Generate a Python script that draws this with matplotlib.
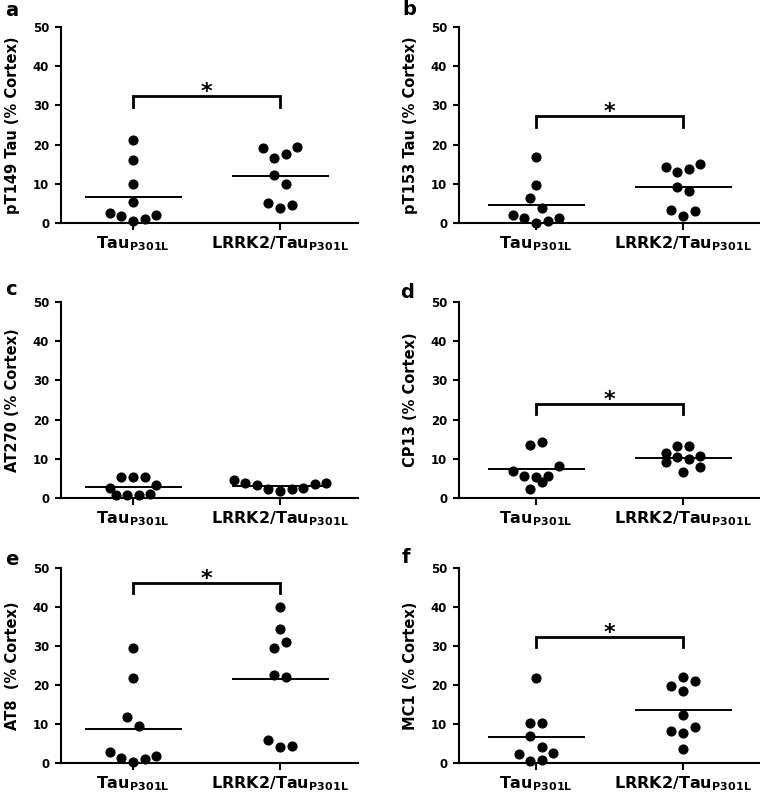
import matplotlib
matplotlib.use('Agg')
import matplotlib.pyplot as plt
import numpy as np

plt.rcParams['font.family'] = ['DejaVu Sans']
plt.rcParams['font.weight'] = 'bold'
plt.rcParams['mathtext.fontset'] = 'dejavusans'

group_labels = [r'$\mathbf{Tau_{P301L}}$', r'$\mathbf{LRRK2/Tau_{P301L}}$']
panel_letters = ['a', 'b', 'c', 'd', 'e', 'f']
ylabels = ['pT149 Tau (% Cortex)', 'pT153 Tau (% Cortex)', 'AT270 (% Cortex)',
           'CP13 (% Cortex)', 'AT8  (% Cortex)', 'MC1 (% Cortex)']

# values per animal, listed row by row (highest first), left to right in a row
tau_a = [21.2, 16.0, 9.9, 5.4, 2.5, 1.8, 0.5, 0.9, 2.1]
lrrk2_a = [19.2, 16.7, 17.7, 19.4, 12.3, 10.0, 5.2, 3.9, 4.6]
tau_b = [16.8, 9.6, 6.4, 3.9, 2.0, 1.3, 0.1, 0.5, 1.4]
lrrk2_b = [14.3, 13.0, 13.9, 15.1, 9.2, 8.2, 3.4, 1.8, 3.1]
tau_c = [2.6, 5.4, 5.4, 5.4, 3.2, 0.7, 0.7, 0.7, 1.0]
lrrk2_c = [4.5, 3.7, 3.2, 2.2, 1.8, 2.2, 2.6, 3.6, 3.9]
tau_d = [13.5, 14.4, 7.0, 5.7, 5.4, 5.7, 8.2, 2.3, 4.2]
lrrk2_d = [11.4, 13.3, 13.3, 10.6, 9.1, 10.4, 10.0, 8.0, 6.7]
tau_e = [29.4, 21.7, 11.7, 9.6, 2.8, 1.3, 0.2, 0.9, 1.9]
lrrk2_e = [40.0, 34.4, 29.6, 30.9, 22.5, 22.1, 6.0, 4.1, 4.3]
tau_f = [21.9, 10.3, 10.3, 6.8, 4.0, 2.3, 0.6, 0.8, 2.6]
lrrk2_f = [19.7, 22.1, 21.0, 18.5, 12.2, 8.2, 7.8, 9.2, 3.5]

# height of the significance bracket (None = not significant)
bracket_y = [32.3, 27.2, None, 24.1, 46.2, 32.4]

panels = [(tau_a, lrrk2_a), (tau_b, lrrk2_b), (tau_c, lrrk2_c),
          (tau_d, lrrk2_d), (tau_e, lrrk2_e), (tau_f, lrrk2_f)]


def row_offsets(vals, row_height=2.85, step=0.079):
    # group close values into rows and spread each row horizontally
    vals = np.asarray(vals, dtype=float)
    order = np.argsort(-vals, kind='stable')
    rows = []
    for i in order:
        if rows and vals[rows[-1][0]] - vals[i] <= row_height:
            rows[-1].append(i)
        else:
            rows.append([i])
    offsets = np.zeros(len(vals))
    for row in rows:
        row = sorted(row)
        n = len(row)
        for k, i in enumerate(row):
            offsets[i] = (k - (n - 1) / 2) * step
    return offsets


W, H = 760, 796
fig = plt.figure(figsize=(W / 100, H / 100), dpi=100)

col_left = [61, 459]
col_xlim = [(0.51, 2.53), (0.476, 2.52)]
row_top = [27, 302, 568]
row_h = [196, 196, 195]
letter_pos = [(5, 16), (402, 15), (5, 295), (400, 298), (5, 565), (402, 563)]
px_per_unit = 147

for idx, (tau, lrrk2) in enumerate(panels):
    r, c = divmod(idx, 2)
    xl = col_xlim[c]
    w = (xl[1] - xl[0]) * px_per_unit
    ax = fig.add_axes([col_left[c] / W, 1 - (row_top[r] + row_h[r]) / H,
                       w / W, row_h[r] / H])

    for x0, vals in zip([1, 2], [tau, lrrk2]):
        xs = x0 + row_offsets(vals)
        ax.plot(xs, vals, 'o', color='black', ms=6.3, clip_on=False, zorder=4)
        m = np.mean(vals)
        ax.hlines(m, x0 - 0.33, x0 + 0.33, color='black', lw=1.4, zorder=3)

    by = bracket_y[idx]
    if by is not None:
        ax.plot([1, 1, 2, 2], [by - 2.6, by, by, by - 2.6], color='black',
                lw=2, solid_joinstyle='miter', clip_on=False)
        ax.annotate('*', xy=(1.5, by), xytext=(0, -1.5), textcoords='offset points',
                    ha='center', va='baseline', fontsize=16, fontweight='bold')

    ax.set_xlim(*xl)
    ax.set_ylim(0, 50)
    ax.set_yticks([0, 10, 20, 30, 40, 50])
    ax.set_xticks([1, 2])
    ax.set_xticklabels(group_labels, fontsize=11.5)
    for s in ['top', 'right']:
        ax.spines[s].set_visible(False)
    for s in ['left', 'bottom']:
        ax.spines[s].set_linewidth(1.5)
    ax.tick_params(axis='y', direction='out', length=4.5, width=1.5,
                   labelsize=8.5, pad=4)
    ax.tick_params(axis='x', direction='out', length=5, width=1.5, pad=3)
    ax.set_ylabel(ylabels[idx], fontsize=10.5, fontweight='bold', labelpad=9)

    lx, ly = letter_pos[idx]
    fig.text(lx / W, 1 - ly / H, panel_letters[idx], fontsize=14,
             fontweight='bold', va='baseline', ha='left')

fig.savefig('out.png', dpi=100)
